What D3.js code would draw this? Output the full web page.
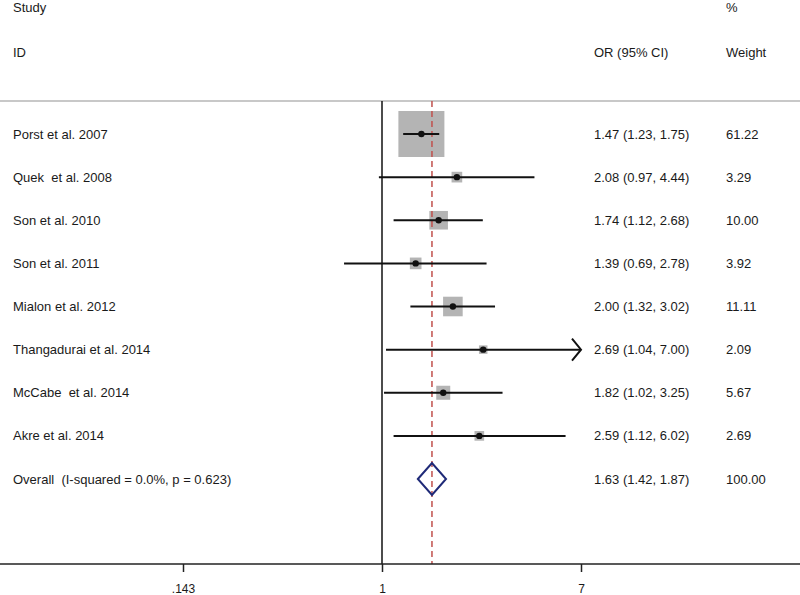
<!DOCTYPE html>
<html>
<head>
<meta charset="utf-8">
<script src="https://cdn.jsdelivr.net/npm/d3@7"></script>
<style>
  body { margin: 0; background: #fff; }
  text { font-family: "Liberation Sans", Arial, sans-serif; font-size: 13px; fill: #1a1a1a; white-space: pre; }
</style>
</head>
<body>
<script>
// studies, odds ratios and CIs
const studies = ["Porst et al. 2007", "Quek  et al. 2008", "Son et al. 2010", "Son et al. 2011",
  "Mialon et al. 2012", "Thangadurai et al. 2014", "McCabe  et al. 2014", "Akre et al. 2014"];
const orVals = [1.47, 2.08, 1.74, 1.39, 2.00, 2.69, 1.82, 2.59];
const loVals = [1.23, 0.97, 1.12, 0.69, 1.32, 1.04, 1.02, 1.12];
const hiVals = [1.75, 4.44, 2.68, 2.78, 3.02, 7.00, 3.25, 6.02];
const weights = [61.22, 3.29, 10.00, 3.92, 11.11, 2.09, 5.67, 2.69];
const overall = {label: "Overall  (I-squared = 0.0%, p = 0.623)", or: 1.63, lo: 1.42, hi: 1.87, w: 100.00};
const tickVals = [1 / 7, 1, 7];
const tickLabels = [".143", "1", "7"];

const w = 800, h = 595;
const plotTop = 101, plotBottom = 564;
const f2 = d3.format(".2f");

const svg = d3.select("body").append("svg").attr("width", w).attr("height", h);

const xScale = d3.scaleLog().domain([1 / 7, 7]).range([183, 581]);
const yScale = d3.scaleLinear().domain([0, 8]).range([134, 479]);
const boxSize = d3.scaleSqrt().domain([0, d3.max(weights)]).range([0, 46]);

// headers
svg.append("text").attr("x", 13).attr("y", 12).text("Study");
svg.append("text").attr("x", 13).attr("y", 57).text("ID");
svg.append("text").attr("x", 594).attr("y", 57).text("OR (95% CI)");
svg.append("text").attr("x", 726).attr("y", 12).text("%");
svg.append("text").attr("x", 726).attr("y", 57).text("Weight");

// top rule
svg.append("line").attr("x1", 0).attr("x2", w).attr("y1", plotTop).attr("y2", plotTop)
  .attr("stroke", "#c8c8c8").attr("stroke-width", 2);

// line of no effect
svg.append("line").attr("x1", xScale(1)).attr("x2", xScale(1)).attr("y1", plotTop).attr("y2", plotBottom)
  .attr("stroke", "#111").attr("stroke-width", 1.5);

// boxes
const rows = studies.map((s, i) => ({name: s, or: orVals[i], lo: loVals[i], hi: hiVals[i], w: weights[i], i: i}));

svg.selectAll(".box").data(rows).enter().append("rect")
  .attr("class", "box")
  .attr("x", d => xScale(d.or) - boxSize(d.w) / 2)
  .attr("y", d => yScale(d.i) - boxSize(d.w) / 2)
  .attr("width", d => boxSize(d.w))
  .attr("height", d => boxSize(d.w))
  .attr("fill", "#b4b4b4");

// overall dashed line
svg.append("line").attr("x1", xScale(overall.or)).attr("x2", xScale(overall.or))
  .attr("y1", plotTop).attr("y2", plotBottom)
  .attr("stroke", "#c0504d").attr("stroke-width", 1.5).attr("stroke-dasharray", "6,4");

// CI lines
svg.selectAll(".ci").data(rows).enter().append("line")
  .attr("class", "ci")
  .attr("x1", d => xScale(d.lo))
  .attr("x2", d => xScale(Math.min(d.hi, 7)))
  .attr("y1", d => yScale(d.i)).attr("y2", d => yScale(d.i))
  .attr("stroke", "#111").attr("stroke-width", 2);

// arrow where CI reaches the axis limit
rows.filter(d => d.hi >= 7).forEach(d => {
  const x = xScale(7), y = yScale(d.i);
  svg.append("path")
    .attr("d", `M${x - 9},${y - 11}L${x},${y}L${x - 9},${y + 11}`)
    .attr("fill", "none").attr("stroke", "#111").attr("stroke-width", 2);
});

svg.selectAll(".pt").data(rows).enter().append("circle")
  .attr("class", "pt")
  .attr("cx", d => xScale(d.or)).attr("cy", d => yScale(d.i)).attr("r", 3.2)
  .attr("fill", "#111");

// overall diamond
const yo = yScale(8);
svg.append("path")
  .attr("d", `M${xScale(overall.lo)},${yo}L${xScale(overall.or)},${yo - 16}L${xScale(overall.hi)},${yo}L${xScale(overall.or)},${yo + 16}Z`)
  .attr("fill", "none").attr("stroke", "#1f2a78").attr("stroke-width", 2);

// text columns
const allRows = rows.concat([{name: overall.label, or: overall.or, lo: overall.lo, hi: overall.hi, w: overall.w, i: 8}]);
const lab = svg.selectAll(".lab").data(allRows).enter().append("g")
  .attr("transform", d => `translate(0,${yScale(d.i) + 4.5})`);
lab.append("text").attr("x", 13).text(d => d.name);
lab.append("text").attr("x", 594).text(d => `${f2(d.or)} (${f2(d.lo)}, ${f2(d.hi)})`);
lab.append("text").attr("x", 726).text(d => f2(d.w));

// x axis
svg.append("line").attr("x1", 0).attr("x2", w).attr("y1", plotBottom).attr("y2", plotBottom)
  .attr("stroke", "#222").attr("stroke-width", 1.5);
const xAxis = d3.axisBottom(xScale).tickValues(tickVals)
  .tickFormat((d, i) => tickLabels[i]).tickSize(8).tickPadding(12);
const ax = svg.append("g").attr("transform", `translate(0,${plotBottom})`).call(xAxis);
ax.select(".domain").remove();
ax.selectAll(".tick line").attr("stroke", "#222").attr("stroke-width", 1.5);
ax.selectAll(".tick text").style("font-size", "12px").style("font-family", "'Liberation Sans', Arial, sans-serif").attr("fill", "#1a1a1a");
</script>
</body>
</html>
